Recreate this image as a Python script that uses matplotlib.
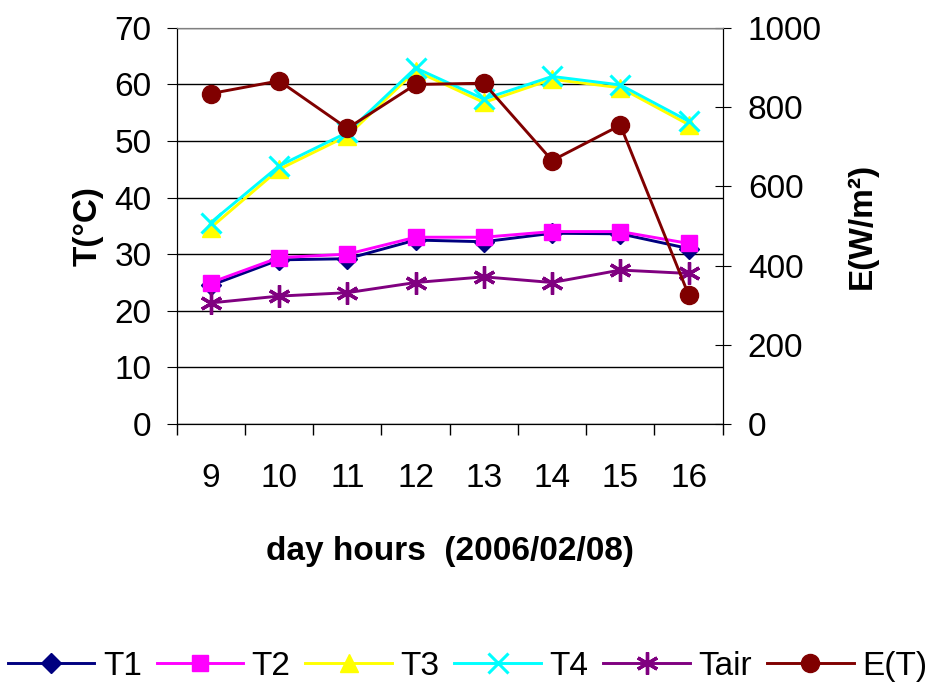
import matplotlib.pyplot as plt
import numpy as np

plt.rcParams['font.family'] = ['Liberation Sans', 'DejaVu Sans']

hours = ['9', '10', '11', '12', '13', '14', '15', '16']
t1 = [24.5, 29.0, 29.2, 32.5, 32.2, 33.7, 33.6, 31.0]
t2 = [25.0, 29.4, 30.0, 33.0, 33.0, 34.0, 34.0, 31.9]
t3 = [34.7, 45.0, 50.9, 62.4, 56.8, 60.9, 59.4, 52.9]
t4 = [35.6, 45.6, 51.5, 62.9, 57.4, 61.4, 59.9, 53.5]
tair = [21.4, 22.6, 23.2, 25.0, 26.0, 25.0, 27.2, 26.6]
e_t = [834, 866, 746, 857, 860, 665, 754, 326]

x = np.arange(len(hours))

fig = plt.figure(figsize=(9.35, 6.94), dpi=100)
ax = fig.add_axes([0.189, 0.389, 0.584, 0.571])
ax2 = ax.twinx()

lw = 2.1
fs = 24
h1, = ax.plot(x, t1, color='#000080', marker='D', ms=10, lw=lw, label='T1')
h2, = ax.plot(x, t2, color='#FF00FF', marker='s', ms=12, lw=lw, label='T2')
h3, = ax.plot(x, t3, color='#FFFF00', marker='^', ms=13, lw=lw, label='T3')
h4, = ax.plot(x, t4, color='#00FFFF', marker='x', ms=14, mew=2.2, lw=lw, label='T4')
h5, = ax.plot(x, tair, color='#800080', marker=(6, 2, 0), ms=16, mew=2.4, lw=lw, label='Tair')
h6, = ax2.plot(x, e_t, color='#800000', marker='o', ms=13, lw=lw, label='E(T)')

ax.set_ylim(0, 70)
ax.set_yticks(np.arange(0, 71, 10))
ax2.set_ylim(0, 1000)
ax2.set_yticks(np.arange(0, 1001, 200))
ax.set_xlim(-0.5, len(hours) - 0.5)
ax.set_xticks(x)
ax.set_xticklabels(hours)
ax.set_xticks(np.arange(-0.5, len(hours)), minor=True)
ax.tick_params(axis='x', which='major', length=0, pad=28, labelsize=fs)
ax.tick_params(axis='x', which='minor', length=8, width=1, direction='out')
ax.tick_params(axis='y', labelsize=fs, length=7, pad=11, direction='out')
ax2.tick_params(axis='y', labelsize=fs, length=12, pad=12, direction='inout')

ax.grid(axis='y', color='black', lw=1)
ax.set_axisbelow(True)
ax.spines['top'].set_color('#808080')
ax2.spines['top'].set_color('#808080')

ax.set_xlabel('day hours  (2006/02/08)', fontsize=fs, fontweight='bold', labelpad=30)
ax.set_ylabel('T(°C)', fontsize=fs, fontweight='bold', labelpad=8)
ax2.set_ylabel('E(W/m²)', fontsize=fs, fontweight='bold', labelpad=18)

fig.legend(handles=[h1, h2, h3, h4, h5, h6], loc='center', bbox_to_anchor=(0.5, 0.04),
           ncol=6, frameon=False, fontsize=fs, handlelength=2.6, handletextpad=0.25,
           columnspacing=0.45)

fig.savefig('out.png', dpi=100)
